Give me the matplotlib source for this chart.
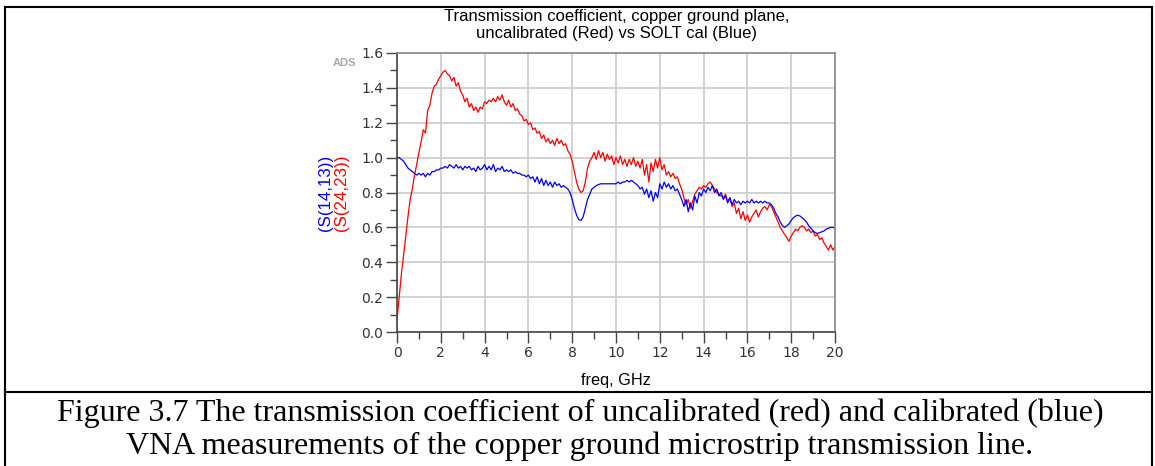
import numpy as np
import matplotlib
matplotlib.use("Agg")
import matplotlib.pyplot as plt
from matplotlib.lines import Line2D
from matplotlib.ticker import MultipleLocator

# frequency grid, GHz (0.1 GHz step)
freq = np.round(np.arange(201) * 0.1, 1)

# |S(24,23)| uncalibrated (red)
s2423 = [
    0.07, 0.20, 0.33, 0.44, 0.55, 0.66, 0.76, 0.82, 0.90, 0.96,
    1.03, 1.09, 1.16, 1.14, 1.27, 1.30, 1.37, 1.41, 1.42, 1.45,
    1.47, 1.49, 1.50, 1.48, 1.47, 1.44, 1.46, 1.41, 1.43, 1.38,
    1.36, 1.32, 1.34, 1.29, 1.31, 1.27, 1.29, 1.26, 1.29, 1.28,
    1.32, 1.31, 1.33, 1.32, 1.34, 1.32, 1.35, 1.33, 1.36, 1.32,
    1.30, 1.33, 1.29, 1.31, 1.27, 1.28, 1.25, 1.24, 1.21, 1.22,
    1.19, 1.20, 1.16, 1.17, 1.14, 1.15, 1.11, 1.13, 1.09, 1.11,
    1.08, 1.10, 1.07, 1.11, 1.08, 1.10, 1.07, 1.08, 1.04, 1.02,
    0.98, 0.92, 0.86, 0.82, 0.80, 0.81, 0.86, 0.94, 0.98, 1.00,
    1.03, 0.99, 1.04, 1.00, 1.03, 0.98, 1.02, 0.99, 1.01, 0.96,
    1.00, 0.97, 1.01, 0.96, 0.99, 0.95, 0.99, 0.96, 1.00, 0.95,
    0.98, 0.94, 0.99, 0.90, 0.96, 0.86, 0.97, 0.92, 0.99, 0.94,
    1.00, 0.93, 0.96, 0.90, 0.92, 0.89, 0.91, 0.88, 0.89, 0.85,
    0.82, 0.77, 0.73, 0.76, 0.71, 0.75, 0.79, 0.81, 0.83, 0.82,
    0.84, 0.83, 0.85, 0.86, 0.84, 0.82, 0.80, 0.79, 0.78, 0.77,
    0.79, 0.75, 0.77, 0.72, 0.74, 0.68, 0.71, 0.65, 0.69, 0.64,
    0.67, 0.63, 0.66, 0.68, 0.70, 0.66, 0.69, 0.71, 0.72, 0.70,
    0.73, 0.72, 0.69, 0.66, 0.63, 0.60, 0.58, 0.56, 0.54, 0.52,
    0.55, 0.57, 0.59, 0.58, 0.60, 0.61, 0.60, 0.58, 0.59, 0.57,
    0.58, 0.55, 0.56, 0.53, 0.54, 0.51, 0.49, 0.47, 0.50, 0.47,
    0.49,
]

# |S(14,13)| after SOLT cal (blue)
s1413 = [
    1.00, 1.00, 0.99, 0.98, 0.96, 0.94, 0.93, 0.92, 0.91, 0.90,
    0.91, 0.90, 0.91, 0.89, 0.91, 0.90, 0.92, 0.92, 0.93, 0.93,
    0.94, 0.94, 0.95, 0.94, 0.96, 0.95, 0.94, 0.96, 0.94, 0.95,
    0.93, 0.95, 0.94, 0.95, 0.93, 0.94, 0.92, 0.95, 0.93, 0.94,
    0.96, 0.93, 0.95, 0.93, 0.96, 0.92, 0.94, 0.93, 0.95, 0.92,
    0.93, 0.92, 0.93, 0.91, 0.92, 0.91, 0.91, 0.90, 0.90, 0.89,
    0.90, 0.88, 0.89, 0.86, 0.89, 0.85, 0.88, 0.84, 0.87, 0.84,
    0.86, 0.83, 0.86, 0.84, 0.85, 0.83, 0.84, 0.83, 0.82, 0.80,
    0.76, 0.71, 0.67, 0.645, 0.64, 0.66, 0.71, 0.76, 0.79, 0.82,
    0.83, 0.84, 0.845, 0.85, 0.85, 0.85, 0.85, 0.85, 0.85, 0.85,
    0.85, 0.86, 0.85, 0.86, 0.86, 0.87, 0.86, 0.87, 0.86, 0.85,
    0.84, 0.82, 0.83, 0.79, 0.82, 0.77, 0.81, 0.75, 0.80, 0.77,
    0.85, 0.82, 0.86, 0.83, 0.85, 0.82, 0.84, 0.81, 0.82, 0.79,
    0.76, 0.72, 0.76, 0.69, 0.74, 0.70, 0.78, 0.74, 0.80, 0.78,
    0.82, 0.80, 0.83, 0.81, 0.84, 0.80, 0.82, 0.78, 0.80, 0.76,
    0.78, 0.74, 0.77, 0.73, 0.76, 0.74, 0.75, 0.73, 0.75, 0.74,
    0.75, 0.74, 0.76, 0.74, 0.75, 0.74, 0.75, 0.74, 0.75, 0.74,
    0.74, 0.73, 0.71, 0.68, 0.66, 0.63, 0.61, 0.60, 0.61, 0.62,
    0.64, 0.655, 0.665, 0.67, 0.665, 0.655, 0.645, 0.63, 0.61, 0.595,
    0.58, 0.57, 0.565, 0.57, 0.575, 0.58, 0.59, 0.595, 0.60, 0.60,
    0.595,
]

title_lines = "Transmission coefficient, copper ground plane,\nuncalibrated (Red) vs SOLT cal (Blue)"
caption = ("Figure 3.7 The transmission coefficient of uncalibrated (red) and calibrated (blue)\n"
           "VNA measurements of the copper ground microstrip transmission line.")

W, H = 1155, 466
fig = plt.figure(figsize=(W / 100, H / 100), dpi=100)
fig.patch.set_facecolor("white")

def fx(px):
    return px / W

def fy(py):
    return 1 - py / H

ax = fig.add_axes([fx(397), fy(332), fx(835) - fx(397), fy(53) - fy(332)])
ax.plot(freq, s2423, color="#ff0000", lw=0.9)
ax.plot(freq, s1413, color="#0000ff", lw=0.9)

ax.set_xlim(0, 20)
ax.set_ylim(0, 1.6)
ax.xaxis.set_major_locator(MultipleLocator(2))
ax.xaxis.set_minor_locator(MultipleLocator(1))
ax.yaxis.set_major_locator(MultipleLocator(0.2))
ax.yaxis.set_minor_locator(MultipleLocator(0.1))
ax.set_yticklabels([f"{v:.1f}" for v in ax.get_yticks()])
ax.grid(True, which="major", color="#cfcfcf", lw=1.3)
ax.set_axisbelow(True)
ax.tick_params(which="major", length=8, width=1, color="#444444",
               labelsize=10, labelcolor="#333333", pad=2)
ax.tick_params(which="minor", length=5, width=1, color="#444444")
for side in ["left", "bottom"]:
    ax.spines[side].set_color("#444444")
    ax.spines[side].set_linewidth(1.2)
for side in ["top", "right"]:
    ax.spines[side].set_color("#8a8a8a")
    ax.spines[side].set_linewidth(1.2)

fig.text(fx(617), fy(25), title_lines, ha="center", va="center",
         fontsize=12, family="Liberation Sans", linespacing=1.22)
fig.text(fx(616), fy(381), "freq, GHz", ha="center", va="center",
         fontsize=11.7, family="Liberation Sans")
fig.text(fx(326), fy(193), "(S(14,13))", rotation=90, ha="center", va="center",
         fontsize=12.2, family="Liberation Sans", color="#0000ff")
fig.text(fx(341), fy(193), "(S(24,23))", rotation=90, ha="center", va="center",
         fontsize=12.2, family="Liberation Sans", color="#ff0000")
fig.text(fx(344), fy(63), "ADS", ha="center", va="center", fontsize=8,
         family="Liberation Sans", color="#a8a8a8", weight="bold")

fig.text(fx(580), fy(430), caption, ha="center", va="center",
         fontsize=23, family="Liberation Serif", linespacing=1.15)

# table frame around the figure
for seg in [((5, 1152), (7, 7)), ((5, 1152), (392, 392)),
            ((5, 5), (7, 466)), ((1152, 1152), (7, 466))]:
    fig.add_artist(Line2D([fx(seg[0][0]), fx(seg[0][1])],
                          [fy(seg[1][0]), fy(seg[1][1])],
                          color="black", lw=1.5, transform=fig.transFigure))

fig.savefig("out.png", dpi=100)
